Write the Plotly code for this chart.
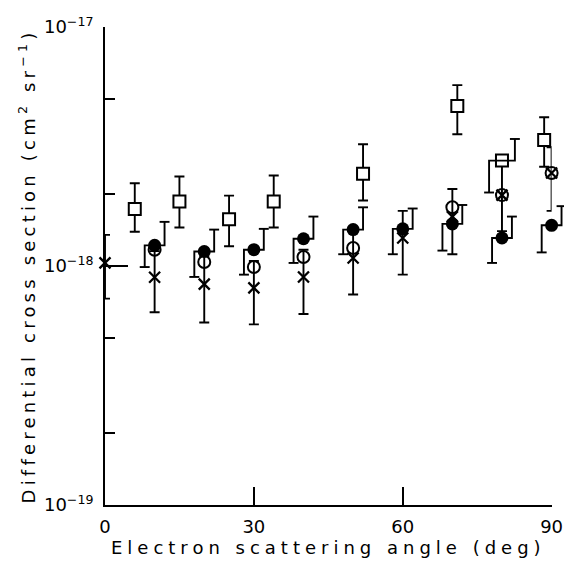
import plotly.graph_objects as go

# ---------------- data (values in units of 1e-18 cm^2 sr^-1) ----------------
sq_x = [6, 15, 25, 34, 52, 71, 88.5]
sq_y = [1.73, 1.86, 1.57, 1.86, 2.43, 4.67, 3.37]
sq_hi = [2.22, 2.37, 1.97, 2.39, 3.23, 5.71, 4.19]
sq_lo = [1.39, 1.45, 1.21, 1.45, 1.88, 3.56, 2.60]

# square with offset (stepped) error bars
sq2_x = [80]
sq2_y = [2.76]
sq2_hi = [3.40]
sq2_lo = [2.03]

fc_x = [10, 20, 30, 40, 50, 60, 70, 80, 90]
fc_y = [1.22, 1.15, 1.17, 1.30, 1.42, 1.43, 1.50, 1.31, 1.48]
fc_hi = [1.53, 1.42, 1.43, 1.61, 1.76, 1.74, 1.80, 1.61, 1.78]
fc_lo = [0.99, 0.90, 0.92, 1.03, 1.12, 1.12, 1.16, 1.03, 1.14]

oc_x = [10, 20, 30, 40, 50, 70, 80, 90]
oc_y = [1.17, 1.04, 0.99, 1.09, 1.19, 1.76, 1.98, 2.45]

cr_x = [0, 10, 20, 30, 40, 50, 60, 70, 80, 90]
cr_y = [1.03, 0.897, 0.84, 0.81, 0.90, 1.08, 1.31, 1.61, 1.98, 2.45]
cr_ep = [0.32, 0.257, 0.26, 0.24, 0.27, 0.32, 0.39, 0.49, 0.78, 0.69]
cr_em = [0.30, 0.257, 0.26, 0.24, 0.27, 0.32, 0.39, 0.49, 0.58, 0.75]

x_ticks = [0, 30, 60, 90]
y_ticks = [1e-19, 1e-18, 1e-17]
y_ticktext = ["10<sup>−19</sup>", "10<sup>−18</sup>", "10<sup>−17</sup>"]
y_minor = [2e-19, 5e-19, 2e-18, 5e-18]

S = 1e-18
FONT = "DejaVu Sans"
LW = 1.9
DOM = 0.973  # fraction of full width used by the visible x axis

def sc(v):
    return [a * S for a in v]

def steps(xs, ys, his, los, dx, cw):
    px, py = [], []
    for x, y, hi, lo in zip(xs, ys, his, los):
        px += [x, x + dx, x + dx, None, x + dx - cw, x + dx + cw, None,
               x, x - dx, x - dx, None, x - dx - cw, x - dx + cw, None]
        py += [y, y, hi, None, hi, hi, None,
               y, y, lo, None, lo, lo, None]
    return px, [None if v is None else v * S for v in py]

fig = go.Figure()

# stepped error bars (drawn on a wider invisible x axis with the same scale)
fx, fy = steps(fc_x, fc_y, fc_hi, fc_lo, 2.0, 1.0)
fig.add_trace(go.Scatter(x=fx, y=fy, mode="lines", xaxis="x2", yaxis="y",
                         line=dict(color="black", width=LW), hoverinfo="skip",
                         showlegend=False))
sx, sy = steps(sq2_x, sq2_y, sq2_hi, sq2_lo, 2.6, 1.0)
fig.add_trace(go.Scatter(x=sx, y=sy, mode="lines", xaxis="x2", yaxis="y",
                         line=dict(color="black", width=LW), hoverinfo="skip",
                         showlegend=False))

err_style = dict(color="black", thickness=LW, width=5)

# crosses
fig.add_trace(go.Scatter(
    x=cr_x, y=sc(cr_y), mode="markers", name="cross",
    marker=dict(symbol="x-thin-open", size=11, color="black",
                line=dict(color="black", width=2.3)),
    error_y=dict(type="data", symmetric=False, array=sc(cr_ep),
                 arrayminus=sc(cr_em), **err_style),
    cliponaxis=False, showlegend=False))

# open circles
fig.add_trace(go.Scatter(
    x=oc_x, y=sc(oc_y), mode="markers", name="open circle",
    marker=dict(symbol="circle-open", size=12, color="black",
                line=dict(color="black", width=2)),
    cliponaxis=False, showlegend=False))

# open squares
fig.add_trace(go.Scatter(
    x=sq_x, y=sc(sq_y), mode="markers", name="square",
    marker=dict(symbol="square", size=12, color="white",
                line=dict(color="black", width=2)),
    error_y=dict(type="data", symmetric=False,
                 array=[h * S - v * S for h, v in zip(sq_hi, sq_y)],
                 arrayminus=[v * S - l * S for v, l in zip(sq_y, sq_lo)],
                 **err_style),
    cliponaxis=False, showlegend=False))
fig.add_trace(go.Scatter(
    x=sq2_x, y=sc(sq2_y), mode="markers", name="square",
    marker=dict(symbol="square", size=12, color="white",
                line=dict(color="black", width=2)),
    cliponaxis=False, showlegend=False))

# filled circles
fig.add_trace(go.Scatter(
    x=fc_x, y=sc(fc_y), mode="markers", name="filled circle",
    marker=dict(symbol="circle", size=13, color="black",
                line=dict(color="black", width=0)),
    cliponaxis=False, showlegend=False))

fig.update_layout(
    width=564, height=565,
    margin=dict(l=105, r=0, t=27, b=60, autoexpand=False),
    paper_bgcolor="white", plot_bgcolor="rgba(0,0,0,0)",
    font=dict(family=FONT, size=18, color="black"),
    xaxis=dict(
        domain=[0, DOM], range=[0, 90], anchor="y", automargin=False,
        showline=True, linecolor="black", linewidth=LW,
        ticks="inside", ticklen=18, tickwidth=LW, tickcolor="black",
        tickvals=x_ticks, ticktext=[str(v) for v in x_ticks],
        showgrid=False, zeroline=False, ticklabelstandoff=4,
        tickfont=dict(size=18),
        title=dict(text="Electron scattering angle (deg)",
                   font=dict(size=18), standoff=6),
    ),
    xaxis2=dict(domain=[0, 1], range=[0, 90 / DOM], anchor="y",
                automargin=False, visible=False, showgrid=False,
                zeroline=False),
    yaxis=dict(
        type="log", range=[-19, -17], domain=[0, 1], automargin=False,
        showline=True, linecolor="black", linewidth=LW,
        ticks="inside", ticklen=23, tickwidth=LW, tickcolor="black",
        tickvals=y_ticks, ticktext=y_ticktext,
        showgrid=False, zeroline=False, ticklabelstandoff=6,
        tickfont=dict(size=18),
        minor=dict(tickvals=y_minor, ticks="inside", ticklen=10,
                   tickwidth=LW, tickcolor="black", showgrid=False),
        title=dict(text="Differential cross section (cm<sup>2</sup> sr<sup>−1</sup>)",
                   font=dict(size=18), standoff=4),
    ),
)

post = """
var st = document.createElement('style');
st.innerHTML = '.xtitle{letter-spacing:5px;} .ytitle{letter-spacing:4.2px;}';
document.head.appendChild(st);
"""
fig.write_html("out.html", post_script=post)
